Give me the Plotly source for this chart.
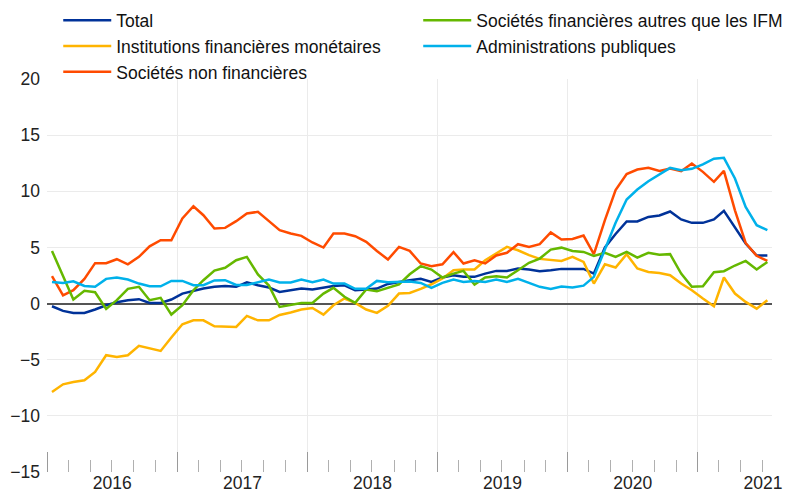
import pandas as pd
import plotly.graph_objects as go

# Monthly observations, January 2016 to July 2021
months = pd.date_range("2016-01-01", "2021-07-01", freq="MS") + pd.Timedelta(days=14)

total = [-0.24, -0.65, -0.83, -0.83, -0.53, -0.15, 0.12, 0.30, 0.39, 0.06, 0.06, 0.36,
         0.89, 1.13, 1.34, 1.50, 1.57, 1.49, 1.90, 1.63, 1.43, 1.04, 1.19, 1.34,
         1.25, 1.40, 1.57, 1.63, 1.19, 1.25, 1.34, 1.75, 1.93, 2.08, 2.20, 1.93,
         2.32, 2.53, 2.38, 2.38, 2.67, 2.91, 2.91, 3.12, 3.03, 2.88, 2.97, 3.09,
         3.09, 3.09, 2.67, 5.00, 6.20, 7.31, 7.31, 7.72, 7.84, 8.20, 7.49, 7.19,
         7.19, 7.49, 8.26, 6.83, 5.35, 4.28, 4.28]

ifm = [-7.87, -7.19, -6.98, -6.83, -6.09, -4.60, -4.75, -4.60, -3.77, -3.98, -4.22, -3.03,
       -1.84, -1.49, -1.49, -2.02, -2.02, -2.08, -1.10, -1.49, -1.49, -1.01, -0.80, -0.53,
       -0.39, -0.98, -0.15, 0.45, 0.06, -0.53, -0.83, -0.20, 0.89, 0.95, 1.31, 1.72,
       2.23, 2.97, 3.03, 3.03, 3.86, 4.46, 5.05, 4.75, 4.31, 3.98, 3.86, 3.80,
       4.16, 3.71, 1.78, 3.50, 3.21, 4.40, 3.12, 2.82, 2.73, 2.53, 1.78, 1.19,
       0.45, -0.24, 2.32, 0.89, 0.15, -0.45, 0.30]

snf = [2.44, 0.74, 1.19, 2.20, 3.60, 3.60, 3.95, 3.50, 4.16, 5.10, 5.64, 5.64,
       7.58, 8.67, 7.87, 6.68, 6.74, 7.34, 8.02, 8.17, 7.34, 6.54, 6.24, 6.03,
       5.44, 4.99, 6.24, 6.24, 6.00, 5.50, 4.69, 3.92, 5.05, 4.69, 3.57, 3.33,
       3.50, 4.58, 3.57, 3.86, 3.57, 4.28, 4.52, 5.29, 5.05, 5.29, 6.33, 5.70,
       5.76, 6.06, 4.40, 7.43, 10.10, 11.53, 11.94, 12.09, 11.82, 12.03, 11.79, 12.48,
       11.73, 10.84, 11.82, 8.30, 5.40, 4.25, 3.80]

sfa = [4.69, 2.38, 0.36, 1.13, 1.01, -0.48, 0.30, 1.31, 1.49, 0.30, 0.51, -0.98,
       -0.15, 1.19, 2.08, 2.94, 3.19, 3.86, 4.16, 2.60, 1.60, -0.30, -0.09, 0.06,
       0.06, 0.89, 1.40, 0.60, 0.06, 1.25, 1.10, 1.43, 1.70, 2.61, 3.33, 3.03,
       2.32, 2.67, 2.91, 1.69, 2.32, 2.44, 2.32, 2.97, 3.63, 4.01, 4.81, 4.98,
       4.69, 4.60, 4.25, 4.52, 4.16, 4.60, 4.10, 4.52, 4.34, 4.40, 2.67, 1.49,
       1.54, 2.79, 2.88, 3.39, 3.80, 3.03, 3.71]

ap = [1.93, 1.84, 1.99, 1.57, 1.49, 2.20, 2.32, 2.14, 1.78, 1.54, 1.54, 2.02,
      2.02, 1.63, 1.63, 2.06, 2.08, 1.66, 1.66, 1.90, 2.14, 1.87, 1.87, 2.14,
      1.90, 2.14, 1.78, 1.78, 1.31, 1.31, 2.02, 1.90, 1.93, 1.96, 1.84, 1.40,
      1.84, 2.14, 1.93, 2.02, 1.93, 2.14, 1.93, 2.20, 1.84, 1.49, 1.31, 1.52,
      1.43, 1.60, 2.38, 4.90, 7.19, 9.27, 10.16, 10.90, 11.50, 12.09, 11.88, 12.00,
      12.39, 12.90, 12.98, 11.14, 8.60, 6.98, 6.54]

series = [
    ("Total", total, "#003299", "legend"),
    ("Institutions financières monétaires", ifm, "#FFB400", "legend"),
    ("Sociétés non financières", snf, "#FF4B00", "legend"),
    ("Sociétés financières autres que les IFM", sfa, "#65B800", "legend2"),
    ("Administrations publiques", ap, "#00B1EA", "legend2"),
]

FONT = "Liberation Sans, Arial, sans-serif"

fig = go.Figure()
for name, vals, color, leg in series:
    fig.add_trace(go.Scatter(x=months, y=vals, mode="lines", name=name,
                             line=dict(color=color, width=2.5), legend=leg))

legend_style = dict(orientation="v", xref="container", yref="paper",
                    xanchor="left", yanchor="top", y=1.195,
                    font=dict(size=17.5, color="#111111"), tracegroupgap=0,
                    bgcolor="rgba(0,0,0,0)", itemwidth=48, traceorder="normal")

# the page body adds an 8px margin, so the figure is 8px smaller than the window
fig.update_layout(
    width=795, height=484,
    margin=dict(l=39, r=31, t=71, b=20, autoexpand=False),
    paper_bgcolor="white", plot_bgcolor="white",
    font=dict(family=FONT, size=17, color="#222222"),
    showlegend=True,
    legend=dict(x=0.0632, **legend_style),
    legend2=dict(x=0.516, **legend_style),
)

fig.update_xaxes(
    type="date", range=["2016-01-01", "2021-07-28"],
    tick0="2016-01-01", dtick="M12", ticklabelmode="period", tickformat="%Y",
    ticks="inside", ticklen=20, tickcolor="#9a9a9a", tickwidth=1,
    showgrid=True, gridcolor="#ebebeb", gridwidth=1,
    showline=False, zeroline=False, ticklabelstandoff=-2,
    tickfont=dict(size=17.5, color="#222222"),
    minor=dict(dtick="M2", tick0="2016-01-01", ticks="inside", ticklen=12,
               tickcolor="#b0b0b0", tickwidth=1, showgrid=False),
)

fig.update_yaxes(
    range=[-15, 20], dtick=5, tick0=0,
    showgrid=True, gridcolor="#ebebeb", gridwidth=1,
    zeroline=True, zerolinecolor="#555555", zerolinewidth=1.5,
    showline=False, ticks="", ticklabelstandoff=6,
    tickfont=dict(size=17.5, color="#222222"),
)

fig.write_html("out.html")
